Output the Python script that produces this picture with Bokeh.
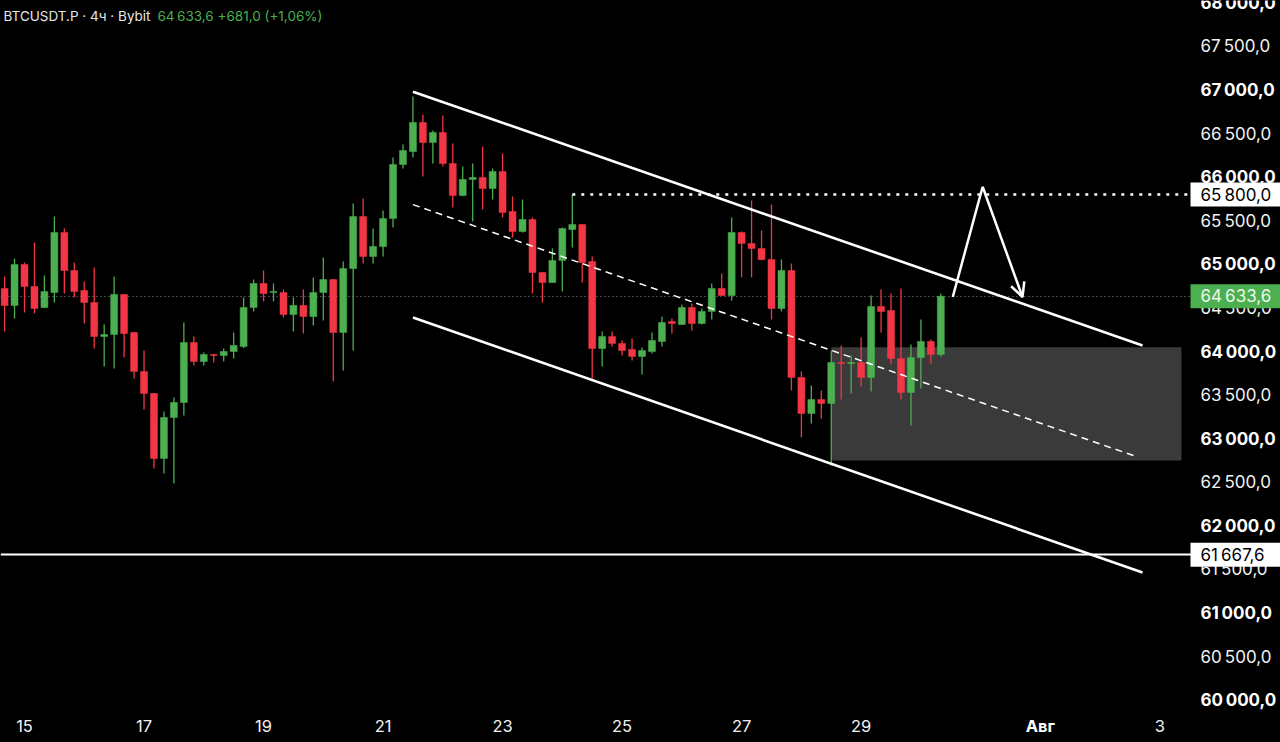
import numpy as np
from bokeh.plotting import figure
from bokeh.models import Range1d, ColumnDataSource, Arrow, OpenHead
from bokeh.core.properties import value
from bokeh.embed import file_html
from bokeh.resources import INLINE

# ---------------- data (4h candles, index 0 = 15 Jul 00:00) ----------------
candle_idx = list(range(-2, 93))
opens = [64723, 64528, 64998, 64746, 64505, 64677, 65365, 64929, 64700, 64562,
         64172, 64195, 64654, 64218, 63771, 63518, 62773, 63243, 63415, 64103,
         63885, 63966, 63954, 64000, 64057, 64505, 64780, 64677, 64677, 64424,
         64528, 64401, 64677, 64826, 64218, 64952, 65548, 65090, 65204, 65526,
         66145, 66294, 66627, 66397, 66512, 66156, 65789, 65973, 65996, 65870,
         66065, 65606, 65376, 65514, 64906, 64791, 65044, 65399, 65457, 65032,
         64034, 64172, 64092, 64023, 63943, 64000, 64115, 64344, 64310, 64505,
         64321, 64459, 64723, 64642, 65365, 65239, 65181, 65055, 64493, 64929,
         63702, 63289, 63449, 63404, 63874, 63862, 63874, 63702, 64516, 64470,
         63920, 63530, 63931, 64115, 63966]
highs = [64860, 65067, 65021, 65250, 64872, 65548, 65411, 65021, 64803, 64963,
         64310, 64860, 64660, 64225, 64011, 63525, 63312, 63472, 64333, 64172,
         63989, 63970, 64034, 64218, 64619, 64826, 64929, 64780, 64711, 64619,
         64711, 64849, 65078, 64830, 65032, 65698, 65755, 65411, 65617, 66225,
         66374, 66925, 66718, 66535, 66707, 66386, 66122, 66156, 66351, 66099,
         66271, 65778, 65743, 65537, 64910, 65181, 65422, 65800, 65460, 65090,
         64229, 64229, 64126, 64149, 64046, 64218, 64401, 64379, 64539, 64551,
         64493, 64780, 64895, 65537, 65376, 65732, 65388, 65686, 65055, 65009,
         63771, 63610, 63553, 64011, 64069, 63954, 64161, 64642, 64711, 64665,
         64723, 64080, 64367, 64138, 64665]
lows = [64229, 64379, 64447, 64436, 64495, 64562, 64665, 64619, 64321, 64034,
        63828, 63805, 63931, 63690, 63335, 62658, 62601, 62486, 63266, 63839,
        63839, 63874, 63885, 63920, 64040, 64459, 64574, 64574, 64390, 64229,
        64206, 64298, 64356, 63656, 63782, 64011, 65009, 65009, 65090, 65422,
        66099, 66225, 66007, 66156, 66122, 65652, 65780, 65491, 65629, 65743,
        65537, 65308, 65365, 64665, 64562, 64785, 64688, 65193, 64791, 63690,
        63828, 64057, 63954, 63897, 63736, 63977, 64057, 64206, 64305, 64241,
        64310, 64367, 64640, 64585, 64849, 64849, 65044, 64367, 64459, 63553,
        63014, 63174, 63231, 62692, 63449, 63518, 63599, 63541, 64218, 63851,
        63449, 63151, 63576, 63862, 63943]
closes = [64528, 64998, 64746, 64493, 64688, 65365, 64929, 64688, 64562, 64172,
          64195, 64654, 64206, 63771, 63518, 62773, 63243, 63415, 64103, 63885,
          63966, 63954, 64000, 64069, 64505, 64780, 64665, 64688, 64424, 64528,
          64401, 64677, 64826, 64218, 64952, 65548, 65090, 65204, 65526, 66145,
          66305, 66627, 66397, 66512, 66156, 65789, 65973, 65996, 65870, 66065,
          65594, 65376, 65514, 64906, 64791, 65044, 65411, 65457, 65021, 64034,
          64172, 64092, 64011, 63943, 64011, 64126, 64333, 64321, 64505, 64321,
          64459, 64723, 64642, 65365, 65239, 65181, 65055, 64493, 64929, 63702,
          63289, 63449, 63404, 63874, 63862, 63874, 63702, 64516, 64459, 63920,
          63530, 63931, 64115, 63966, 64633.6]

# drawings (x in candle index, y in price)
channel_x = [39.0, 112.25]
channel_upper = [66980, 64070]
channel_lower = [64390, 61465]
channel_mid_x = [39.0, 111.75]
channel_mid = [65685, 62790]
zone_start = 81
zone_low = 62750
zone_high = 64050
target_level = 65800
target_from = 55
support_level = 61667.6
last_price = 64633.6
arrow_x = [93.2, 96.2, 100.2]
arrow_y = [64625, 65890, 64625]

# scales
tick_days = [15, 17, 19, 21, 23, 25, 27, 29, 32, 34]   # days counted from 1 Jul
day_labels = ["15", "17", "19", "21", "23", "25", "27", "29", "Авг", "3"]
day_bold = [False, False, False, False, False, False, False, False, True, False]
price_major = [60000, 61000, 62000, 63000, 64000, 65000, 66000, 67000, 68000]
price_half = [60500, 61500, 62500, 63500, 64500, 65500, 66500, 67500]

header_left = "BTCUSDT.P · 4ч · Bybit"
header_right = "64\u202f633,6  +681,0 (+1,06%)"

# ---------------- styling / layout ----------------
GREEN = "#4caf50"
RED = "#f23645"
FONT = "Inter"
W, H = 1280, 742
X0, DX = 24.0, 9.96      # screen x of 15 Jul 00:00, px per 4h candle
Y0, DY = 351.0, 11.47    # screen y of 64000, price per px


def kx(px):
    return (px - X0) / DX


def py(px):
    return 64000 + (Y0 - px) * DY


def fmt(v):
    return f"{v:,.1f}".replace(",", "\u202f").replace(".", ",")


o = np.array(opens, dtype=float)
c = np.array(closes, dtype=float)
h = np.array(highs, dtype=float)
l = np.array(lows, dtype=float)
x = np.array(candle_idx, dtype=float)
colors = np.where(c >= o, GREEN, RED)
src = ColumnDataSource(dict(x=x, top=np.maximum(o, c), bottom=np.minimum(o, c),
                            high=h, low=l, color=colors))

p = figure(width=W, height=H, output_backend="svg", toolbar_location=None,
           x_range=Range1d(kx(0), kx(W)), y_range=Range1d(py(H), py(0)),
           x_axis_location=None, y_axis_location=None,
           background_fill_color="#000000", border_fill_color="#000000",
           min_border=0, min_border_left=0, min_border_right=0,
           min_border_top=0, min_border_bottom=0)
p.outline_line_color = None
p.grid.visible = False

PANE_RIGHT = kx(1181)   # right edge of the chart pane (price scale starts here)
SCALE_X = kx(1200)      # left edge of price-scale texts

# zone
p.quad(left=[zone_start], right=[PANE_RIGHT], bottom=[zone_low], top=[zone_high],
       fill_color="#3a3a3a", line_color=None)

# last-price dotted line (behind candles)
p.hspan(y=[last_price], line_color="#8c8c8c", line_width=1, line_dash="1 3")

# candles
p.segment(x0="x", y0="low", x1="x", y1="high", line_color="color", line_width=1.3, source=src)
p.vbar(x="x", width=0.7, top="top", bottom="bottom", fill_color="color",
       line_color="color", line_width=0.5, source=src)

# levels
p.hspan(y=[support_level], line_color="#ffffff", line_width=2)
p.ray(x=[target_from], y=[target_level], length=0, angle=0, line_color="#ffffff",
      line_width=2.5, line_dash="3 6")

# channel
p.line(channel_x, channel_upper, line_color="#ffffff", line_width=2.6)
p.line(channel_x, channel_lower, line_color="#ffffff", line_width=2.6)
p.line(channel_mid_x, channel_mid, line_color="#ffffff", line_width=1.5, line_dash="7 5")

# projected move
p.line(arrow_x[:2], arrow_y[:2], line_color="#ffffff", line_width=2.5)
p.add_layout(Arrow(end=OpenHead(size=14, line_color="#ffffff", line_width=2.5),
                   x_start=arrow_x[1], y_start=arrow_y[1], x_end=arrow_x[2], y_end=arrow_y[2],
                   line_color="#ffffff", line_width=2.5))

# price scale
p.text(x=[SCALE_X] * len(price_half), y=price_half, text=[fmt(v) for v in price_half],
       text_font=value(FONT), text_font_size=value("17px"), text_color="#f2f2f2",
       text_align=value("left"), text_baseline=value("middle"))
p.text(x=[SCALE_X] * len(price_major), y=price_major, text=[fmt(v) for v in price_major],
       text_font=value(FONT), text_font_size=value("17px"), text_font_style=value("bold"),
       text_color="#ffffff", text_align=value("left"), text_baseline=value("middle"))

# highlighted price labels
marks = [target_level, last_price, support_level]
mark_fill = ["#ffffff", GREEN, "#ffffff"]
mark_text = ["#000000", "#eef7ee", "#000000"]
half_h = 12 * DY
p.quad(left=[kx(1190)] * 3, right=[kx(W + 10)] * 3,
       bottom=[m - half_h for m in marks], top=[m + half_h for m in marks],
       fill_color=mark_fill, line_color=None)
p.text(x=[SCALE_X] * 3, y=marks, text=[fmt(m) for m in marks], text_color=mark_text,
       text_font=value(FONT), text_font_size=value("17px"),
       text_align=value("left"), text_baseline=value("middle"))

# time scale
tick_idx = [(d - 15) * 6 for d in tick_days]
reg = [(t, s) for t, s, b in zip(tick_idx, day_labels, day_bold) if not b]
bld = [(t, s) for t, s, b in zip(tick_idx, day_labels, day_bold) if b]
p.text(x=[t for t, _ in reg], y=[py(725)] * len(reg), text=[s for _, s in reg],
       text_font=value(FONT), text_font_size=value("16.5px"), text_color="#f2f2f2",
       text_align=value("center"), text_baseline=value("middle"))
p.text(x=[t for t, _ in bld], y=[py(725)] * len(bld), text=[s for _, s in bld],
       text_font=value(FONT), text_font_size=value("16.5px"), text_font_style=value("bold"),
       text_color="#ffffff", text_align=value("center"), text_baseline=value("middle"))

# header
p.text(x=[kx(3)], y=[py(15)], text=[header_left], text_font=value(FONT),
       text_font_size=value("13.5px"), text_color="#e6e6e6",
       text_align=value("left"), text_baseline=value("middle"))
p.text(x=[kx(157)], y=[py(15)], text=[header_right], text_font=value(FONT),
       text_font_size=value("13.5px"), text_color=GREEN,
       text_align=value("left"), text_baseline=value("middle"))

PAGE_TEMPLATE = """{% block preamble %}<style>html, body { background-color: #000000; }</style>{% endblock %}
"""

open("out.html", "w", encoding="utf-8").write(file_html(p, INLINE, title="BTCUSDT.P", template=PAGE_TEMPLATE))
